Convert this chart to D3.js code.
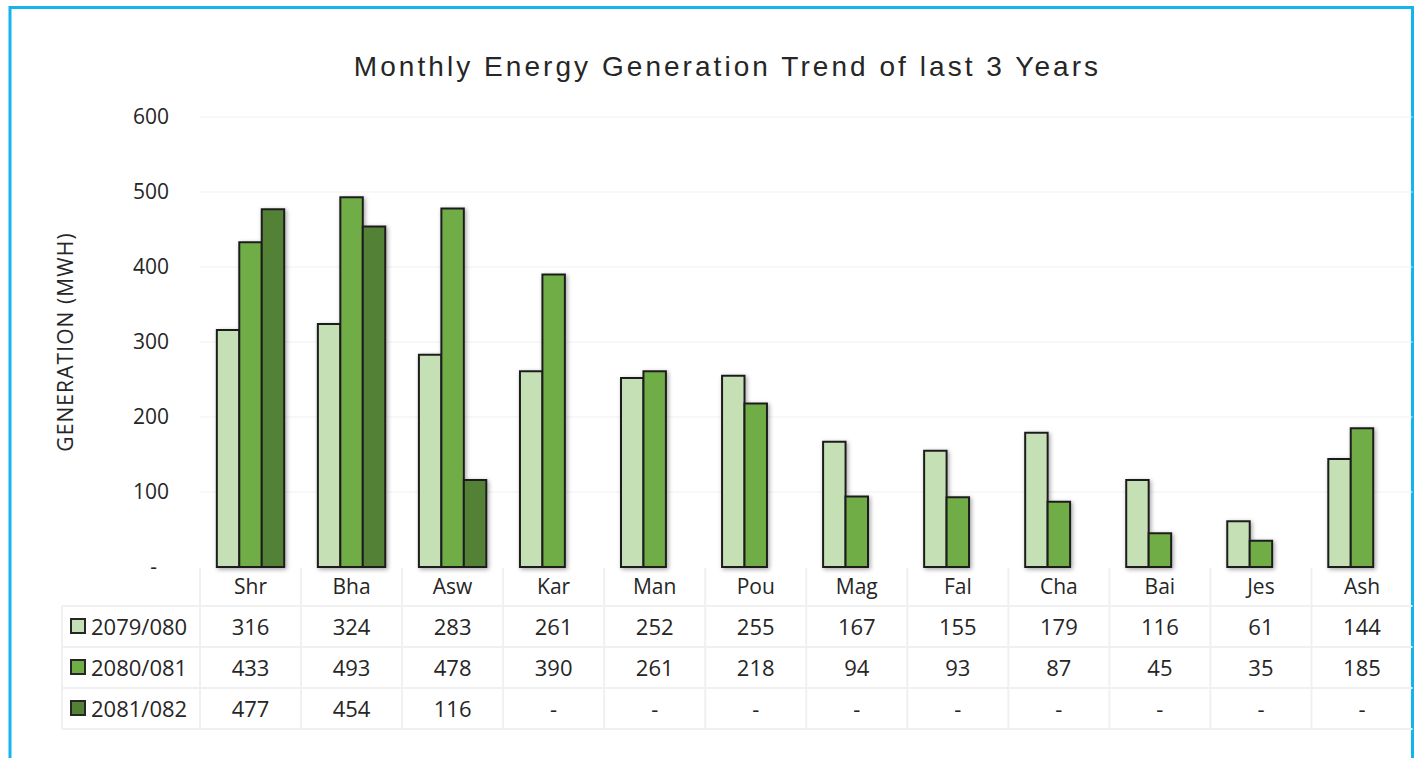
<!DOCTYPE html>
<html>
<head>
<meta charset="utf-8">
<script src="https://cdn.jsdelivr.net/npm/d3@7"></script>
<style>
  html, body { margin: 0; padding: 0; background: #fff; }
  svg { display: block; }
</style>
</head>
<body>
<svg id="chart" width="1418" height="758"></svg>
<script>
// Monthly generation (MWh) per fiscal year
const months = ["Shr", "Bha", "Asw", "Kar", "Man", "Pou", "Mag", "Fal", "Cha", "Bai", "Jes", "Ash"];
const seriesNames = ["2079/080", "2080/081", "2081/082"];
const gen2079 = [316, 324, 283, 261, 252, 255, 167, 155, 179, 116, 61, 144];
const gen2080 = [433, 493, 478, 390, 261, 218, 94, 93, 87, 45, 35, 185];
const gen2081 = [477, 454, 116, null, null, null, null, null, null, null, null, null];
const yTicks = [0, 100, 200, 300, 400, 500, 600];

const seriesValues = [gen2079, gen2080, gen2081];
const colors = ["#c5e0b4", "#70ad47", "#538135"];

const svg = d3.select("#chart");

// drop shadow for bars
const defs = svg.append("defs");
const f = defs.append("filter").attr("id", "shadow")
  .attr("x", "-30%").attr("y", "-10%").attr("width", "160%").attr("height", "120%");
f.append("feDropShadow").attr("dx", 1.5).attr("dy", 1.5).attr("stdDeviation", 2)
  .attr("flood-color", "#000").attr("flood-opacity", 0.35);

// outer frame
svg.append("rect").attr("x", 10).attr("y", 7.5).attr("width", 1402.5).attr("height", 800)
  .attr("fill", "none").attr("stroke", "#14b4ee").attr("stroke-width", 3);

// title
svg.append("text")
  .attr("x", 727.5).attr("y", 76)
  .attr("text-anchor", "middle")
  .attr("font-family", "'Liberation Sans', Arial, sans-serif")
  .attr("font-size", 28)
  .attr("letter-spacing", 3.05)
  .attr("fill", "#262626")
  .text("Monthly Energy Generation Trend of last 3 Years");

const plotLeft = 200, plotRight = 1412.5;
const x = d3.scaleBand().domain(months).range([plotLeft, plotRight]).padding(0);
const xs = d3.scaleBand().domain(seriesNames).range([0, x.bandwidth()]).paddingInner(0).paddingOuter(0.75);
const y = d3.scaleLinear().domain([0, 600]).range([567, 117]);

const font = "'Open Sans', 'Noto Sans', sans-serif";
const textColor = "#262626";

// gridlines
svg.append("g").selectAll("line").data(yTicks.filter(t => t > 0)).join("line")
  .attr("x1", plotLeft).attr("x2", plotRight)
  .attr("y1", d => y(d)).attr("y2", d => y(d))
  .attr("stroke", "#f2f2f2").attr("stroke-width", 1.2);

// y axis labels
const yAxis = d3.axisLeft(y).tickValues(yTicks).tickSize(0).tickPadding(0)
  .tickFormat(d => d === 0 ? "-" : d3.format("d")(d));
const gy = svg.append("g").attr("transform", "translate(169,0)").call(yAxis);
gy.select(".domain").remove();
gy.selectAll("text")
  .attr("font-family", font).attr("font-size", 21).attr("fill", textColor)
  .attr("dx", d => d === 0 ? -12 : 0);

// y axis title
svg.append("text")
  .attr("transform", "translate(73,342) rotate(-90)")
  .attr("text-anchor", "middle")
  .attr("font-family", font).attr("font-size", 21).attr("letter-spacing", 1.1)
  .attr("fill", textColor)
  .text("GENERATION (MWH)");

// bars
const barData = [];
seriesValues.forEach((vals, si) => {
  vals.forEach((v, mi) => {
    if (v != null) barData.push({ month: months[mi], series: seriesNames[si], si, value: v });
  });
});
svg.append("g").attr("filter", "url(#shadow)")
  .selectAll("rect").data(barData).join("rect")
  .attr("x", d => x(d.month) + xs(d.series))
  .attr("y", d => y(d.value))
  .attr("width", xs.bandwidth())
  .attr("height", d => y(0) - y(d.value))
  .attr("fill", d => colors[d.si])
  .attr("stroke", "#1f1f1f").attr("stroke-width", 2);

// data table
const headerTop = 568, rowH = 41, firstRowTop = 606, tableLeft = 62;
const tbl = svg.append("g");
const lineColor = "#f0f0f0";
// horizontal rules
[0, 1, 2, 3].forEach(i => {
  const yy = firstRowTop + i * rowH;
  tbl.append("line").attr("x1", tableLeft).attr("x2", plotRight)
    .attr("y1", yy).attr("y2", yy).attr("stroke", lineColor).attr("stroke-width", 2);
});
// vertical rules
months.forEach(m => {
  tbl.append("line").attr("x1", x(m)).attr("x2", x(m))
    .attr("y1", headerTop).attr("y2", firstRowTop + 3 * rowH)
    .attr("stroke", lineColor).attr("stroke-width", 2);
});
tbl.append("line").attr("x1", tableLeft).attr("x2", tableLeft)
  .attr("y1", firstRowTop).attr("y2", firstRowTop + 3 * rowH)
  .attr("stroke", lineColor).attr("stroke-width", 2);

// category labels
tbl.append("g").selectAll("text").data(months).join("text")
  .attr("x", d => x(d) + x.bandwidth() / 2)
  .attr("y", 594)
  .attr("text-anchor", "middle")
  .attr("font-family", font).attr("font-size", 21).attr("fill", textColor)
  .text(d => d);

// series rows
seriesNames.forEach((name, si) => {
  const cy = firstRowTop + si * rowH + rowH / 2;
  tbl.append("rect").attr("x", 71).attr("y", cy - 7.5).attr("width", 14).attr("height", 14)
    .attr("fill", colors[si]).attr("stroke", "#262626").attr("stroke-width", 2);
  tbl.append("text").attr("x", 91).attr("y", cy + 8)
    .attr("font-family", font).attr("font-size", 22).attr("fill", textColor)
    .text(name);
  tbl.append("g").selectAll("text").data(seriesValues[si]).join("text")
    .attr("x", (d, i) => x(months[i]) + x.bandwidth() / 2)
    .attr("y", cy + 8)
    .attr("text-anchor", "middle")
    .attr("font-family", font).attr("font-size", 22).attr("fill", textColor)
    .text(d => d == null ? "-" : d);
});
</script>
</body>
</html>
